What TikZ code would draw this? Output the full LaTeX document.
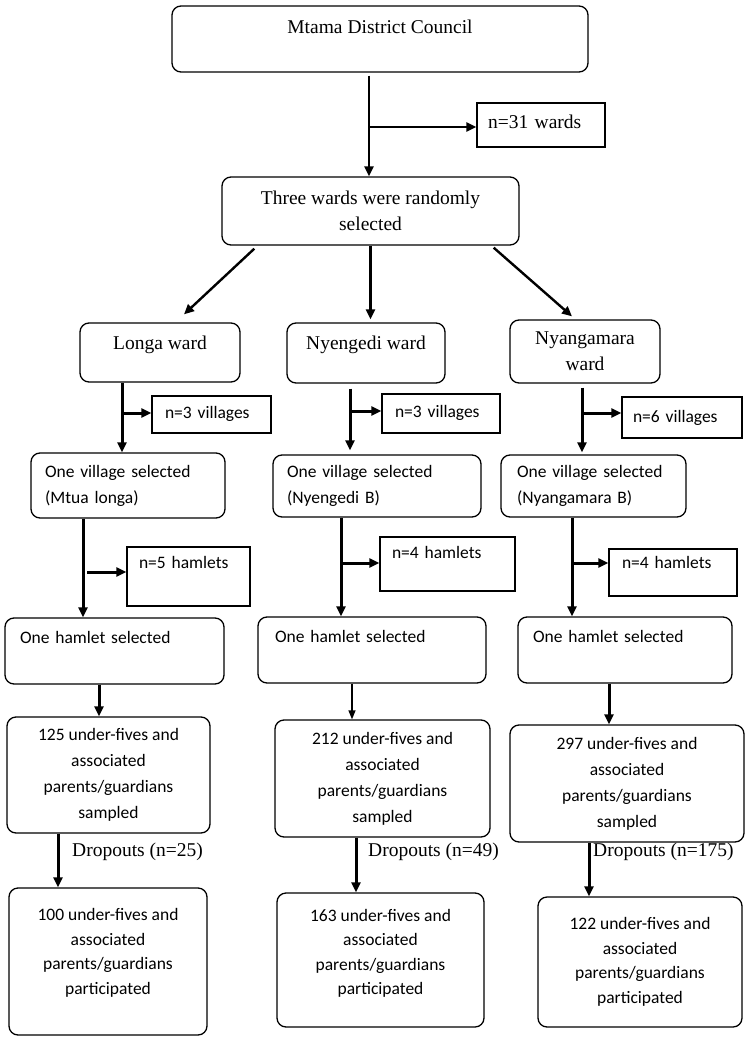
\documentclass[tikz,border=0pt]{standalone}
\usepackage{fontspec}
\setmainfont{Liberation Serif}
\newfontfamily\calib{Carlito}
\usetikzlibrary{arrows.meta}

\begin{document}
\begin{tikzpicture}[x=1pt, y=-1pt,
  rbox/.style={draw, rounded corners=9pt, line width=1.3pt, inner sep=0pt},
  sbox/.style={draw, line width=1.3pt, inner sep=0pt},
  sz/.style 2 args={minimum width=#1, minimum height=#2},
  tnr/.style={font=\fontsize{19.5}{26}\selectfont, align=center},
  cal/.style={font=\calib\fontsize{17.5}{26}\selectfont, align=center},
  lft/.style 2 args={align=left, text width=#1, inner xsep=#2},
  lift/.style={text height=12pt, text depth=#1},
  conn/.style={-{Triangle[length=10pt,width=9pt]}, line width=3pt}]
  \useasboundingbox (0,0) rectangle (746,1040);

  % district and the ward count
  \node[rbox, tnr, sz={416pt}{66pt}, lift=23pt] (council) at (380,39) {Mtama District Council};
  \node[sbox, tnr, lft={106pt}{11pt}, minimum height=44pt, lift=5pt] (nward) at (541,125) {n=31 wards};
  \node[rbox, tnr, sz={297pt}{68pt}] (three) at (370.5,211) {Three wards were randomly\\selected};
  \coordinate (j0) at (369,127);
  \draw[conn, line width=2.6pt, shorten <=3pt] (council.south -| j0) -- (three.north -| j0);
  \draw[conn, line width=2.6pt] (j0) -- (j0 -| nward.west);

  % the three wards
  \node[rbox, tnr, sz={160pt}{59pt}, lift=19pt] (longa) at (160,352.5) {Longa ward};
  \node[rbox, tnr, sz={158pt}{60pt}, lift=19pt] (nyengedi) at (366,353) {Nyengedi ward};
  \node[rbox, tnr, sz={150pt}{63pt}] (nyanga) at (585,351.5) {Nyangamara\\ward};
  \draw[conn, line width=2.4pt] ([xshift=33pt, yshift=-3pt]three.south west) -- ([xshift=24pt, yshift=8pt]longa.north);
  \draw[conn] (three.south) -- ([yshift=3pt]three.south |- nyengedi.north);
  \draw[conn, line width=2.4pt] ([xshift=-26pt, yshift=-2pt]three.south east) -- ([xshift=-13pt, yshift=3pt]nyanga.north);

  % villages
  \node[sbox, cal, lft={93pt}{13pt}, minimum height=37pt, lift=4pt] (lvn) at (211.5,414.5) {n=3 villages};
  \node[sbox, cal, lft={92pt}{13pt}, minimum height=39pt, lift=4pt] (nvn) at (441,413.5) {n=3 villages};
  \node[sbox, cal, lft={98pt}{11pt}, minimum height=41pt, lift=2pt] (yvn) at (682,417.5) {n=6 villages};
  \node[rbox, cal, lft={166pt}{14pt}, minimum height=65pt] (lsel) at (128,485.5) {One village selected\\(Mtua longa)};
  \node[rbox, cal, lft={180pt}{14pt}, minimum height=62pt] (nsel) at (377,486) {One village selected\\(Nyengedi B)};
  \node[rbox, cal, lft={153pt}{16pt}, minimum height=62pt] (ysel) at (593.5,486) {One village selected\\(Nyangamara B)};
  \coordinate (jl1) at (122,413);
  \coordinate (jn1) at (350,411);
  \coordinate (jy1) at (582,413);
  \draw[conn] (longa.south -| jl1) -- (lsel.north -| jl1);
  \draw[conn] (jl1) -- (jl1 -| lvn.west);
  \draw[conn, shorten <=5pt] (nyengedi.south -| jn1) -- ([yshift=4pt]nsel.north -| jn1);
  \draw[conn] (jn1) -- (jn1 -| nvn.west);
  \draw[conn, shorten <=4pt] (nyanga.south -| jy1) -- ([yshift=2pt]ysel.north -| jy1);
  \draw[conn] (jy1) -- (jy1 -| yvn.west);

  % hamlets
  \node[sbox, cal, lft={99pt}{12pt}, minimum height=59pt, lift=28pt] (lhn) at (188.5,576.5) {n=5 hamlets};
  \node[sbox, cal, lft={111pt}{12pt}, minimum height=54pt, lift=23pt] (nhn) at (447.5,564) {n=4 hamlets};
  \node[sbox, cal, lft={102pt}{13pt}, minimum height=47pt, lift=20pt] (yhn) at (673,572.5) {n=4 hamlets};
  \node[rbox, cal, lft={189pt}{15pt}, minimum height=66pt, lift=27pt] (lham) at (114.5,651) {One hamlet selected};
  \node[rbox, cal, lft={194pt}{17pt}, minimum height=66pt, lift=27pt] (nham) at (372,650) {One hamlet selected};
  \node[rbox, cal, lft={184pt}{15pt}, minimum height=66pt, lift=27pt] (yham) at (625,650) {One hamlet selected};
  \coordinate (jl2) at (83,572);
  \coordinate (jn2) at (341,563);
  \coordinate (jy2) at (572,563);
  \draw[conn] (lsel.south -| jl2) -- (lham.north -| jl2);
  \draw[conn, shorten <=4pt] (jl2) -- (jl2 -| lhn.west);
  \draw[conn] (nsel.south -| jn2) -- (nham.north -| jn2);
  \draw[conn] (jn2) -- (jn2 -| nhn.west);
  \draw[conn] (ysel.south -| jy2) -- (yham.north -| jy2);
  \draw[conn] (jy2) -- (jy2 -| yhn.west);

  % sampled
  \node[rbox, cal, sz={203pt}{116pt}] (lsam) at (108.5,775) {125 under-fives and\\associated\\parents/guardians\\sampled};
  \node[rbox, cal, sz={215pt}{117pt}] (nsam) at (382.5,778.5) {212 under-fives and\\associated\\parents/guardians\\sampled};
  \node[rbox, cal, sz={234pt}{117pt}] (ysam) at (627,783.5) {297 under-fives and\\associated\\parents/guardians\\sampled};
  \coordinate (kl) at (99,700);
  \coordinate (kn) at (352,700);
  \coordinate (ky) at (609,700);
  \draw[conn] (lham.south -| kl) -- (lsam.north -| kl);
  \draw[-{Triangle[length=9pt,width=7pt]}, line width=1.3pt] (nham.south -| kn) -- (nsam.north -| kn);
  \draw[conn] (yham.south -| ky) -- (ysam.north -| ky);

  % dropouts and participants
  \node[tnr, anchor=west, inner sep=0pt] (ldrop) at (72,852) {Dropouts (n=25)};
  \node[tnr, anchor=west, inner sep=0pt] (ndrop) at (368,852) {Dropouts (n=49)};
  \node[tnr, anchor=west, inner sep=0pt] (ydrop) at (593,852) {Dropouts (n=175)};
  \node[rbox, cal, sz={198pt}{147pt}, font=\calib\fontsize{17.5}{24.5}\selectfont] (lfin) at (108,961.5) {100 under-fives and\\associated\\parents/guardians\\participated\\[-4pt]\mbox{}};
  \node[rbox, cal, sz={207pt}{134pt}, font=\calib\fontsize{17.5}{24.5}\selectfont] (nfin) at (380.5,960) {163 under-fives and\\associated\\parents/guardians\\participated\\[-8pt]\mbox{}};
  \node[rbox, cal, sz={204pt}{130pt}, font=\calib\fontsize{17.5}{24.5}\selectfont] (yfin) at (640,962) {122 under-fives and\\associated\\parents/guardians\\participated};
  \coordinate (dl) at (58,860);
  \coordinate (dn) at (356,860);
  \coordinate (dy) at (589,860);
  \draw[conn] (lsam.south -| dl) -- (lfin.north -| dl);
  \draw[conn] (nsam.south -| dn) -- (nfin.north -| dn);
  \draw[conn] (ysam.south -| dy) -- (yfin.north -| dy);
\end{tikzpicture}
\end{document}
